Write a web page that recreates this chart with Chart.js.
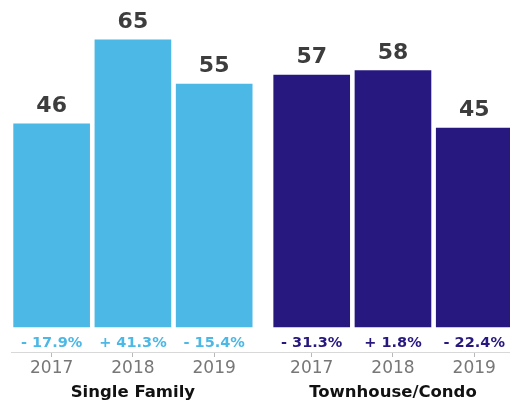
<!DOCTYPE html>
<html>
<head>
<meta charset="utf-8">
<script src="https://cdn.jsdelivr.net/npm/chart.js@4.4.1/dist/chart.umd.min.js"></script>
<style>
  html, body { margin: 0; padding: 0; background: #fff; overflow: hidden; }
  #wrap { width: 510px; height: 401px; position: relative; }
</style>
</head>
<body>
<div id="wrap"><canvas id="c"></canvas></div>
<script>
// ---- data ----
const years = ['2017', '2018', '2019'];
const groupNames = ['Single Family', 'Townhouse/Condo'];
const singleFamily = [46, 65, 55];
const townhouseCondo = [57, 58, 45];
const singleFamilyChange = ['- 17.9%', '+ 41.3%', '- 15.4%'];
const townhouseCondoChange = ['- 31.3%', '+ 1.8%', '- 22.4%'];

// ---- layout / style ----
const GROUP_STEP = 3.2;           // distance between group starts on the x scale
const colors = ['#4cb8e6', '#271880'];
const FONT = '"DejaVu Sans", sans-serif';

const seriesValues = [singleFamily, townhouseCondo];
const seriesChange = [singleFamilyChange, townhouseCondoChange];
const tickPositions = [];
seriesValues.forEach((vals, g) => vals.forEach((v, i) => tickPositions.push(i + g * GROUP_STEP)));

const datasets = seriesValues.map((vals, g) => ({
  label: groupNames[g],
  data: vals.map((v, i) => ({ x: i + g * GROUP_STEP, y: v })),
  backgroundColor: colors[g],
  borderWidth: 0,
  barThickness: 76,
  grouped: false
}));

const labelPlugin = {
  id: 'labels',
  afterDatasetsDraw(chart) {
    const ctx = chart.ctx;
    const area = chart.chartArea;
    const xs = chart.scales.x;
    ctx.save();
    ctx.textAlign = 'center';
    ctx.textBaseline = 'alphabetic';
    chart.data.datasets.forEach((ds, g) => {
      const meta = chart.getDatasetMeta(g);
      meta.data.forEach((el, i) => {
        ctx.font = 'bold 22px ' + FONT;
        ctx.fillStyle = '#3d3d3d';
        ctx.fillText(String(seriesValues[g][i]), el.x, el.y - 12);
        ctx.font = 'bold 14.5px ' + FONT;
        ctx.fillStyle = colors[g];
        ctx.fillText(seriesChange[g][i], el.x, area.bottom - 5);
      });
      ctx.font = 'bold 16.5px ' + FONT;
      ctx.fillStyle = '#111';
      ctx.fillText(groupNames[g], xs.getPixelForValue(1 + g * GROUP_STEP), 397);
    });
    ctx.restore();
  }
};

new Chart(document.getElementById('c'), {
  type: 'bar',
  data: { datasets },
  options: {
    responsive: true,
    maintainAspectRatio: false,
    animation: false,
    layout: { padding: { left: 11, right: 0, top: 0, bottom: 21.6 } },
    plugins: { legend: { display: false }, tooltip: { enabled: false } },
    scales: {
      x: {
        type: 'linear',
        offset: false,
        min: -0.5,
        max: 5.64,
        afterBuildTicks(scale) {
          scale.ticks = tickPositions.map(v => ({ value: v }));
        },
        ticks: {
          autoSkip: false,
          maxRotation: 0,
          padding: 1,
          color: '#777',
          font: { family: FONT, size: 17 },
          callback(value, index) { return years[index % years.length]; }
        },
        grid: { offset: false, drawOnChartArea: false, drawTicks: true, tickLength: 5, color: '#b8b8b8' },
        border: { display: true, color: '#d8d8d8', width: 1 }
      },
      y: {
        display: false,
        min: -5.66,
        max: 74
      }
    }
  },
  plugins: [labelPlugin]
});
</script>
</body>
</html>
